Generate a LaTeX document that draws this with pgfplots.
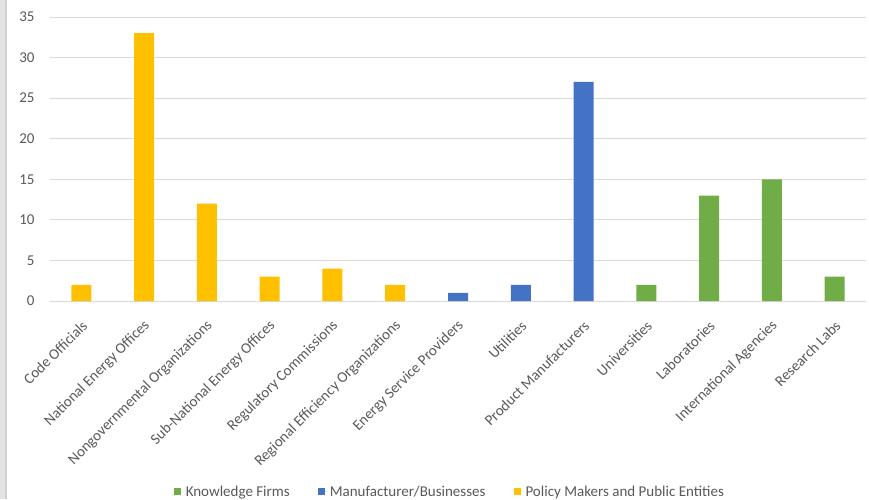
\documentclass[border=0pt]{standalone}
\usepackage{fontspec}
\setmainfont{Carlito}
\usepackage{pgfplots}
\pgfplotsset{compat=1.18}

\definecolor{policy}{HTML}{FFC000}
\definecolor{manuf}{HTML}{4472C4}
\definecolor{knowl}{HTML}{70AD47}
\definecolor{txt}{HTML}{595959}
\definecolor{gridc}{HTML}{D9D9D9}

\begin{document}
\begin{tikzpicture}
\useasboundingbox (-50pt,-198pt) rectangle (819pt,301pt);
\fill[gray!22] (-50pt,-198pt) rectangle (-43pt,301pt);
\fill[gray!35] (-45pt,-198pt) rectangle (-43pt,301pt);
\begin{axis}[
    scale only axis,
    width=816pt, height=284pt,
    xmin=-0.5, xmax=12.5,
    ymin=0, ymax=35,
    ytick={0,5,...,35},
    xtick={0,...,12},
    xticklabels={Code Officials, National Energy Offices, Nongovernmental Organizations,
        Sub-National Energy Offices, Regulatory Commissions, Regional Efficiency Organizations,
        Energy Service Providers, Utilities, Product Manufacturers, Universities,
        Laboratories, International Agencies, Research Labs},
    ymajorgrids=true,
    grid style={gridc, line width=0.8pt},
    axis line style={draw=none},
    major tick length=0pt,
    ybar, bar width=20pt, bar shift=0pt,
    tick label style={font=\fontsize{15}{18}\selectfont, text=txt},
    /pgf/number format/assume math mode=true,
    yticklabel style={xshift=-12pt},
    xticklabel style={rotate=45, anchor=east, xshift=-10pt, yshift=-18pt},
    legend columns=3,
    legend style={at={(axis description cs:0.49,-0.672)}, anchor=center, draw=none,
        font=\fontsize{15}{18}\selectfont, text=txt,
        /tikz/every even column/.append style={column sep=26pt}},
    legend image code/.code={\fill[#1] (0pt,-3.5pt) rectangle (7pt,3.5pt);
        \path (0pt,0pt) -- (10pt,0pt);},
]
\addplot[fill=knowl, draw=none] coordinates {(9,2) (10,13) (11,15) (12,3)};
\addplot[fill=manuf, draw=none] coordinates {(6,1) (7,2) (8,27)};
\addplot[fill=policy, draw=none] coordinates {(0,2) (1,33) (2,12) (3,3) (4,4) (5,2)};
\legend{Knowledge Firms, Manufacturer/Businesses, Policy Makers and Public Entities}
\end{axis}
\end{tikzpicture}
\end{document}
